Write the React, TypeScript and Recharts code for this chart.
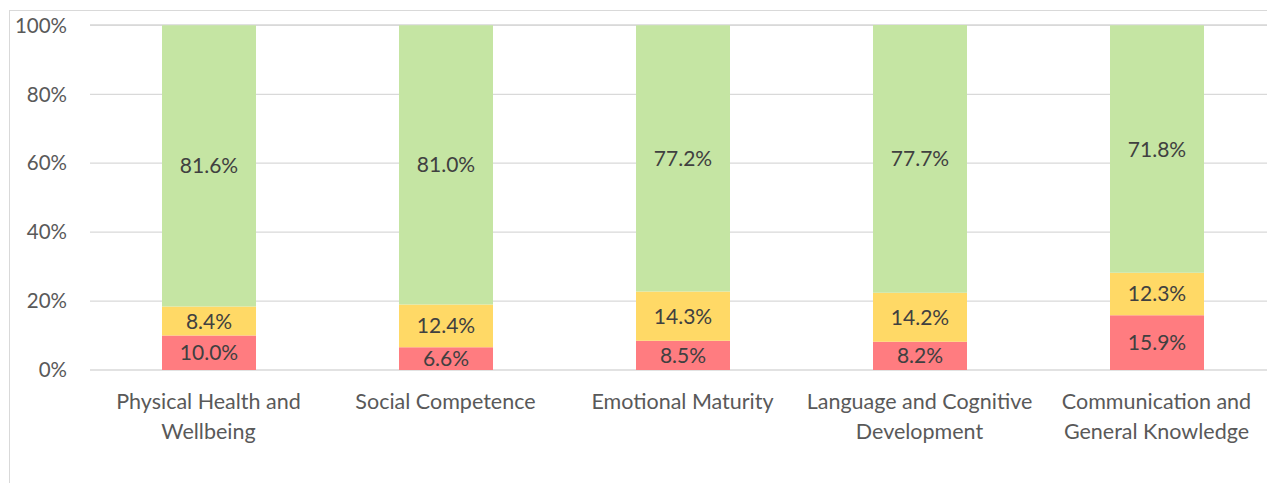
import { BarChart, Bar, XAxis, YAxis, CartesianGrid, LabelList } from 'recharts'

const categories = [
  'Physical Health and Wellbeing',
  'Social Competence',
  'Emotional Maturity',
  'Language and Cognitive Development',
  'Communication and General Knowledge',
]

// how each category name breaks onto lines under the axis
const categoryLines = [
  ['Physical Health and', 'Wellbeing'],
  ['Social Competence'],
  ['Emotional Maturity'],
  ['Language and Cognitive', 'Development'],
  ['Communication and', 'General Knowledge'],
]

const red = [10.0, 6.6, 8.5, 8.2, 15.9]
const yellow = [8.4, 12.4, 14.3, 14.2, 12.3]
const green = [81.6, 81.0, 77.2, 77.7, 71.8]

const yTicks = [0, 20, 40, 60, 80, 100]

const data = categories.map((name, i) => ({
  name,
  red: red[i],
  yellow: yellow[i],
  green: green[i],
}))

const FONT = 'Lato, "Open Sans", sans-serif'

function CategoryTick(props: any) {
  const { x, y, payload } = props
  const lines = categoryLines[payload.index] ?? [payload.value]
  return (
    <text x={x} y={y} textAnchor="middle" fill="#595959" fontSize={21.5} fontFamily={FONT}>
      {lines.map((l, i) => (
        <tspan key={i} x={x} dy={i === 0 ? 31 : 30}>
          {l}
        </tspan>
      ))}
    </text>
  )
}

const pct = (v: any) => `${Number(v).toFixed(1)}%`

export default function App() {
  return (
    <div
      style={{
        marginTop: 2,
        marginLeft: 1,
        borderTop: '1px solid #d9d9d9',
        borderLeft: '1px solid #d9d9d9',
        width: 1265,
        height: 472,
        fontFamily: FONT,
      }}
    >
      <BarChart
        width={1265}
        height={472}
        data={data}
        margin={{ top: 14, right: 0, left: 0, bottom: 0 }}
        barSize={94}
      >
        <CartesianGrid vertical={false} stroke="#d9d9d9" strokeWidth={1.3} />
        <XAxis
          dataKey="name"
          axisLine={false}
          tickLine={false}
          height={113}
          interval={0}
          tick={<CategoryTick />}
        />
        <YAxis
          domain={[0, 100]}
          ticks={yTicks}
          tickFormatter={v => `${v}%`}
          axisLine={false}
          tickLine={false}
          width={80}
          tickMargin={17}
          tick={{ fontSize: 20.5, fill: '#595959', fontFamily: FONT }}
        />
        <Bar dataKey="red" stackId="a" fill="#FF7C80" isAnimationActive={false}>
          <LabelList dataKey="red" position="center" formatter={pct} fill="#404040" fontSize={21} fontFamily={FONT} />
        </Bar>
        <Bar dataKey="yellow" stackId="a" fill="#FFD966" isAnimationActive={false}>
          <LabelList dataKey="yellow" position="center" formatter={pct} fill="#404040" fontSize={21} fontFamily={FONT} />
        </Bar>
        <Bar dataKey="green" stackId="a" fill="#C5E5A3" isAnimationActive={false}>
          <LabelList dataKey="green" position="center" formatter={pct} fill="#404040" fontSize={21} fontFamily={FONT} />
        </Bar>
      </BarChart>
    </div>
  )
}
